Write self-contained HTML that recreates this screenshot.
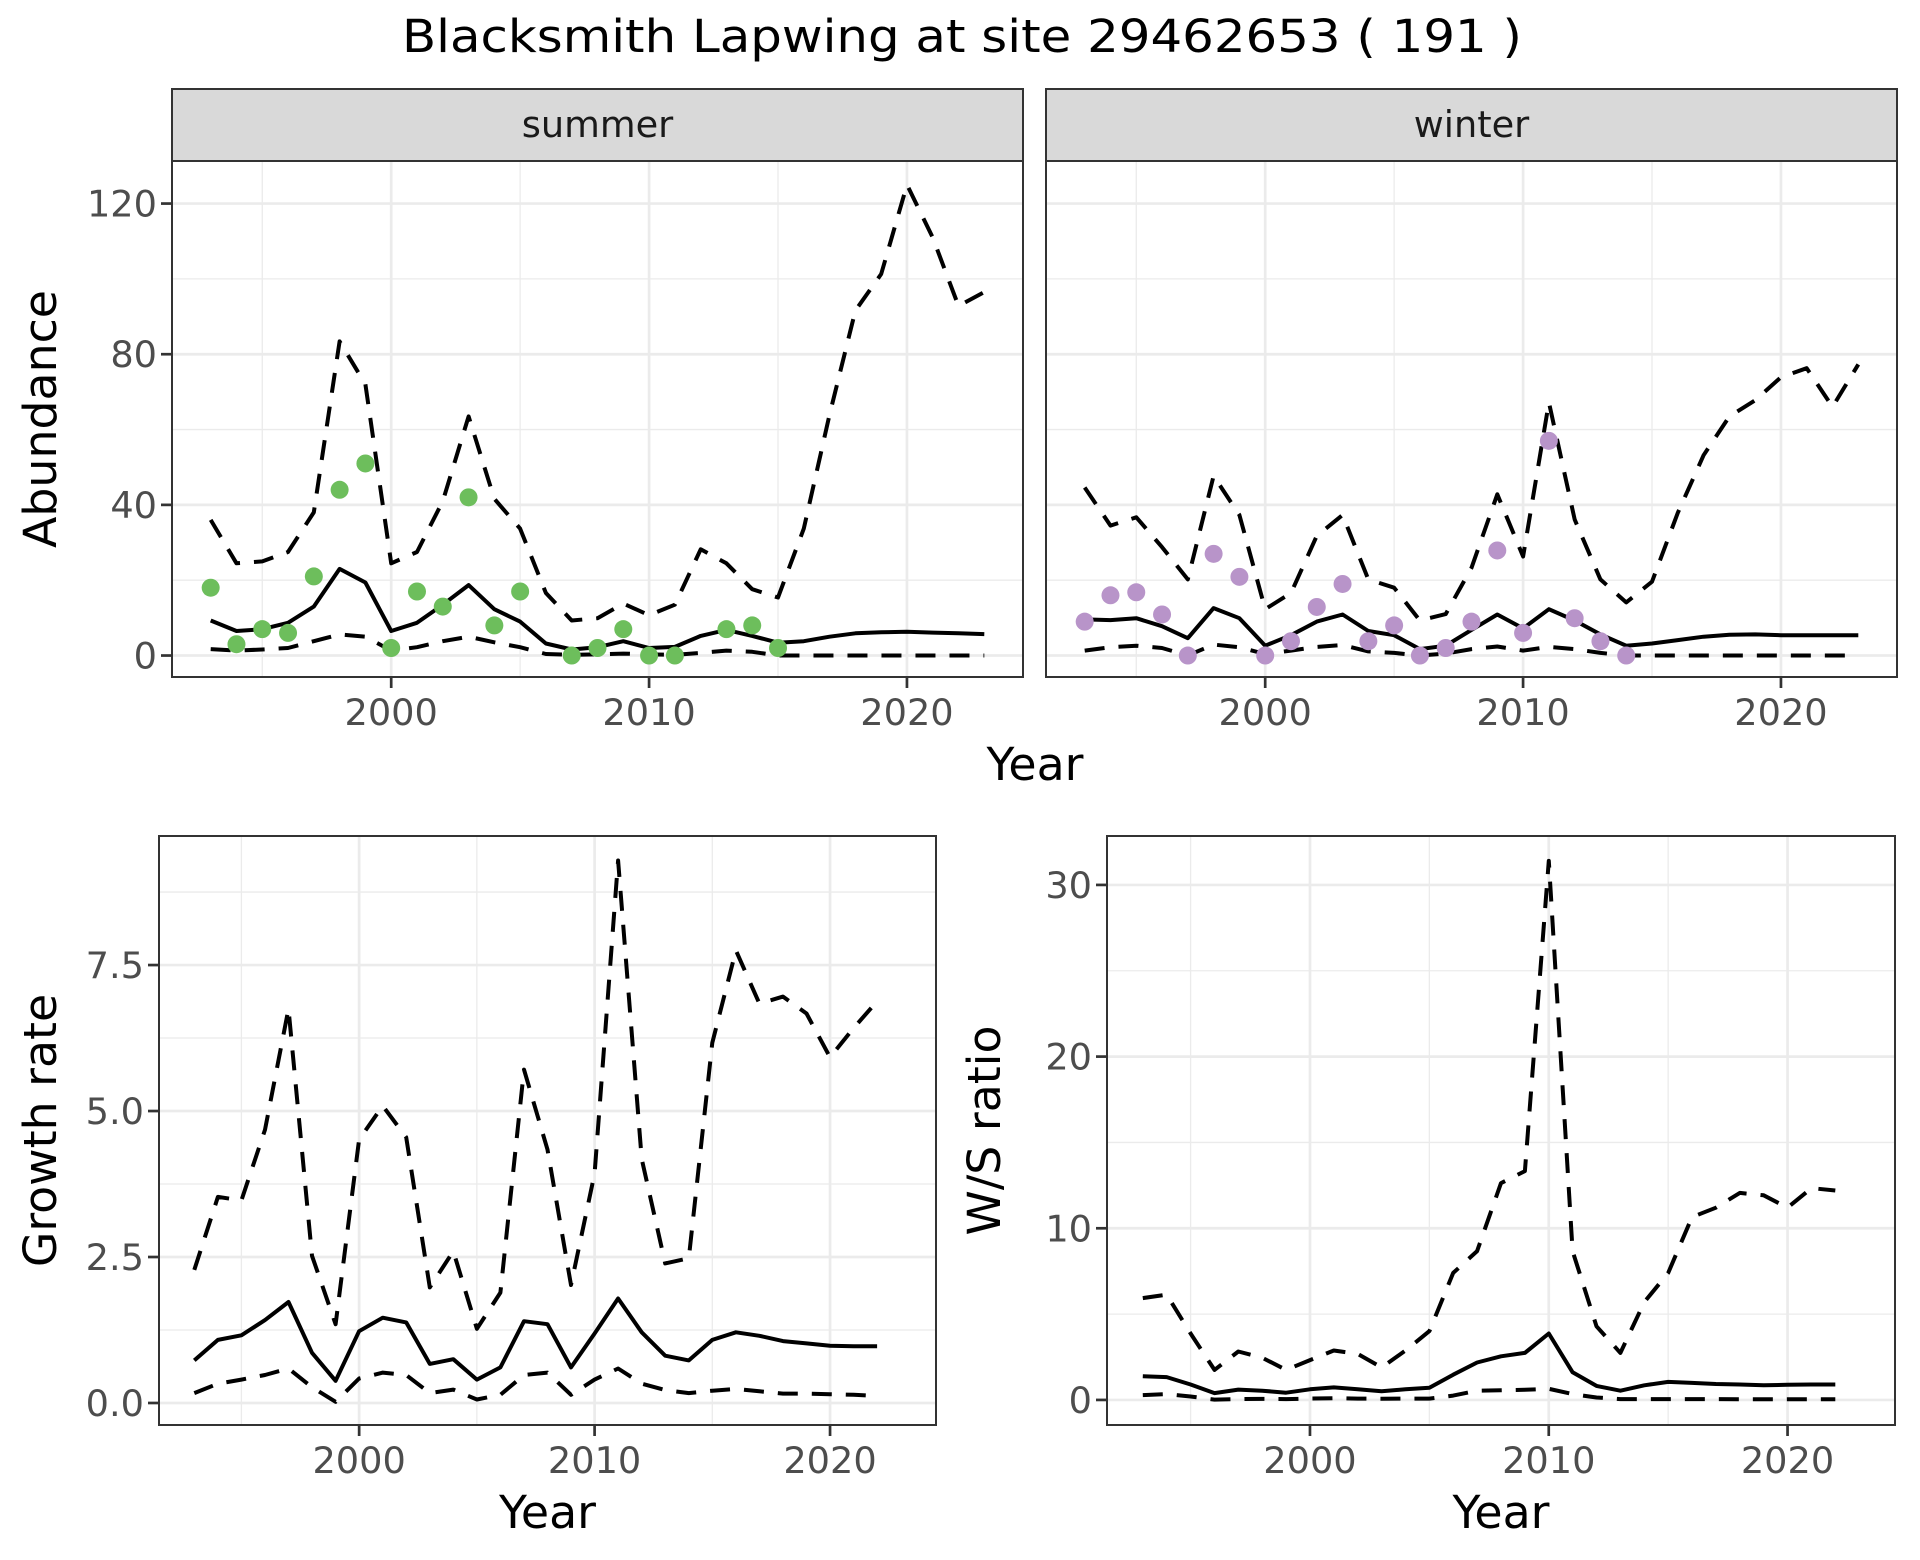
<!DOCTYPE html>
<html><head><meta charset="utf-8"><title>Blacksmith Lapwing</title>
<style>html,body{margin:0;padding:0;background:#fff;overflow:hidden}svg{display:block}text{font-family:"DejaVu Sans","Liberation Sans",sans-serif}</style>
</head><body>
<svg id="fig" xmlns="http://www.w3.org/2000/svg" width="1920" height="1560" viewBox="0 0 1920 1560">
<rect width="1920" height="1560" fill="#fff"/>
<text x="962" y="52" font-size="45.8" text-anchor="middle" textLength="1120" lengthAdjust="spacingAndGlyphs">Blacksmith Lapwing at site 29462653 ( 191 )</text>
<g id="layer"></g>
</svg>
<script>
const years = [1993,1994,1995,1996,1997,1998,1999,2000,2001,2002,2003,2004,2005,2006,2007,2008,2009,2010,2011,2012,2013,2014,2015,2016,2017,2018,2019,2020,2021,2022,2023];
const summerObsYears = [1993,1994,1995,1996,1997,1998,1999,2000,2001,2002,2003,2004,2005,2007,2008,2009,2010,2011,2013,2014,2015];
const summerObs = [18,3,7,6,21,44,51,2,17,13,42,8,17,0,2,7,0,0,7,8,2];
const summerMean = [9.3,6.5,7,8.7,13,23,19.4,6.5,8.7,13.5,18.7,12.3,9,3.2,1.6,2.2,3.8,2,2.3,5.2,6.8,5.2,3.4,3.8,5,5.9,6.2,6.3,6.1,5.9,5.7];
const summerUpper = [36,24.5,25,27.5,38,83.4,72,24.5,27.5,41,63.5,41.6,33.7,16.6,9.3,9.9,13.8,10.7,13.5,28.2,24.5,17.6,15.4,33.7,64,91.6,101.3,125,111,92.8,96.5];
const summerLower = [1.7,1.3,1.6,2,3.8,5.6,5,1.3,2.2,3.8,5,3.5,2.2,0.4,0.2,0.3,0.5,0.3,0.2,0.7,1.3,1,0,0,0,0,0,0,0,0,0];
const winterObsYears = [1993,1994,1995,1996,1997,1998,1999,2000,2001,2002,2003,2004,2005,2006,2007,2008,2009,2010,2011,2012,2013,2014];
const winterObs = [9,16,16.8,10.9,0,27,20.9,0,3.8,12.9,19,3.8,8,0,2,9,27.9,6,57,9.9,3.8,0];
const winterMean = [9.6,9.4,9.9,7.8,4.6,12.6,9.9,2.6,5.4,9,10.9,6.5,5.4,1.7,2.6,6.8,10.9,7.2,12.3,9.3,5.6,2.6,3.2,4.1,5,5.5,5.6,5.4,5.4,5.4,5.4];
const winterUpper = [44.6,34.5,36.7,28.8,20.2,47.7,37.3,12.3,16.6,31.8,37.3,20.2,18,9.3,11,23.3,42.8,26.3,67.2,36.1,20.2,14.1,19.6,37.9,53.2,63.5,67.8,73.9,76.3,66,77.3];
const winterLower = [1.3,2.2,2.6,2,0,2.9,2.2,0.4,1.3,2.3,2.8,1.1,0.7,0,0.5,1.7,2.4,1.3,2.3,1.7,0.7,0,0,0,0,0,0,0,0,0,0];
const years2 = [1993,1994,1995,1996,1997,1998,1999,2000,2001,2002,2003,2004,2005,2006,2007,2008,2009,2010,2011,2012,2013,2014,2015,2016,2017,2018,2019,2020,2021,2022];
const growthMean = [0.73,1.08,1.16,1.42,1.73,0.86,0.38,1.23,1.46,1.38,0.67,0.75,0.4,0.61,1.4,1.35,0.61,1.19,1.79,1.21,0.81,0.73,1.08,1.21,1.15,1.06,1.02,0.98,0.97,0.97];
const growthUpper = [2.28,3.53,3.47,4.68,6.75,2.52,1.35,4.51,5.09,4.55,1.98,2.6,1.27,1.89,5.71,4.34,2.02,3.93,9.29,4.18,2.39,2.48,6.17,7.75,6.84,6.96,6.67,5.92,6.42,6.88];
const growthLower = [0.17,0.33,0.4,0.48,0.59,0.27,0.02,0.42,0.52,0.48,0.17,0.23,0.06,0.14,0.48,0.52,0.14,0.4,0.59,0.33,0.22,0.17,0.21,0.24,0.2,0.16,0.16,0.15,0.14,0.12];
const ratioMean = [1.38,1.33,0.9,0.4,0.6,0.54,0.42,0.62,0.73,0.62,0.51,0.62,0.71,1.47,2.18,2.54,2.74,3.87,1.61,0.82,0.54,0.85,1.05,0.99,0.93,0.9,0.85,0.88,0.9,0.9];
const ratioUpper = [5.93,6.13,3.87,1.75,2.82,2.46,1.75,2.32,2.88,2.68,1.89,2.88,4.01,7.4,8.67,12.63,13.33,31.4,8.67,4.29,2.74,5.7,7.4,10.65,11.2,12.06,11.92,11.2,12.34,12.2];
const ratioLower = [0.28,0.34,0.2,0.02,0.05,0.06,0.05,0.08,0.1,0.08,0.07,0.08,0.08,0.25,0.54,0.56,0.59,0.65,0.34,0.14,0.05,0.05,0.05,0.05,0.05,0.04,0.04,0.04,0.04,0.04];
const xTicks = [2000,2010,2020];
const xMinor = [1995,2005,2015];
const abundTicks = [0,40,80,120];
const abundMinor = [20,60,100];
const growthTicks = [0,2.5,5,7.5];
const growthTickLabels = ["0.0","2.5","5.0","7.5"];
const growthMinor = [1.25,3.75,6.25,8.75];
const ratioTicks = [0,10,20,30];
const ratioMinor = [5,15,25];

const NS = "http://www.w3.org/2000/svg";
const layer = document.getElementById('layer');
function mk(tag, attrs, parent) {
  const e = document.createElementNS(NS, tag);
  for (const k in attrs) e.setAttribute(k, attrs[k]);
  (parent || layer).appendChild(e);
  return e;
}
function panel(cfg) {
  const g = mk('g', {});
  
  
  const L = cfg.l, R = cfg.r, T = cfg.t, B = cfg.b;
  const sx = v => L + (v - 1991.5) / 33 * (R - L);
  const sy = v => B - (v - cfg.ymin) / (cfg.ymax - cfg.ymin) * (B - T);
  mk('rect', {x: L, y: T, width: R - L, height: B - T, fill: '#fff'}, g);
  cfg.yMinor.forEach(v => {
    const l = mk('line', {x1: L, x2: R, y1: sy(v), y2: sy(v), stroke: '#ebebeb', 'stroke-width': 1.3}, g);
    
    
  });
  xMinor.forEach(v => {
    const l = mk('line', {x1: sx(v), x2: sx(v), y1: T, y2: B, stroke: '#ebebeb', 'stroke-width': 1.3}, g);
    
    
  });
  cfg.yTicks.forEach((v, i) => {
    const l = mk('line', {x1: L, x2: R, y1: sy(v), y2: sy(v), stroke: '#ebebeb', 'stroke-width': 2.7}, g);
    
    
    if (cfg.showY) {
      const tk = mk('line', {x1: L - 11, x2: L, y1: sy(v), y2: sy(v), stroke: '#333', 'stroke-width': 2.7}, g);
      
      
      const t = mk('text', {x: L - 15, y: sy(v) + 13, 'font-size': 36.7, fill: '#4d4d4d', 'text-anchor': 'end'}, g);
      
      
      t.textContent = cfg.yLabels ? cfg.yLabels[i] : String(v);
    }
  });
  xTicks.forEach(v => {
    const l = mk('line', {x1: sx(v), x2: sx(v), y1: T, y2: B, stroke: '#ebebeb', 'stroke-width': 2.7}, g);
    
    
    const tk = mk('line', {x1: sx(v), x2: sx(v), y1: B, y2: B + 11, stroke: '#333', 'stroke-width': 2.7}, g);
    
    
    const t = mk('text', {x: sx(v), y: B + 48, 'font-size': 36.7, fill: '#4d4d4d', 'text-anchor': 'middle'}, g);
    
    
    t.textContent = String(v);
  });
  const line = (xs, ys, dash, name) => {
    const d = ys.map((v, i) => (i ? 'L' : 'M') + sx(xs[i]).toFixed(1) + ',' + sy(v).toFixed(1)).join('');
    const p = mk('path', {d: d, fill: 'none', stroke: '#000', 'stroke-width': 4, 'stroke-linejoin': 'round'}, g);
    if (dash) p.setAttribute('stroke-dasharray', '20 14');
    
    
  };
  line(cfg.xs, cfg.upper, true, 'upper-bound-line');
  line(cfg.xs, cfg.lower, true, 'lower-bound-line');
  line(cfg.xs, cfg.mean, false, 'mean-line');
  if (cfg.obs) cfg.obs.forEach((v, i) => {
    const c = mk('circle', {cx: sx(cfg.obsX[i]), cy: sy(v), r: 9, fill: cfg.color}, g);
    
    
  });
  mk('rect', {x: L, y: T, width: R - L, height: B - T, fill: 'none', stroke: '#333', 'stroke-width': 2}, g);
  if (cfg.strip) {
    const s = mk('rect', {x: L, y: T - 72, width: R - L, height: 72, fill: '#d9d9d9', stroke: '#333', 'stroke-width': 2}, g);
    
    
    const st = mk('text', {x: (L + R) / 2, y: T - 24, 'font-size': 36.7, fill: '#1a1a1a', 'text-anchor': 'middle'}, g);
    
    
    st.textContent = cfg.strip;
  }
  if (cfg.ytitle) {
    const cy = (T + B) / 2;
    const yt = mk('text', {x: cfg.ytx, y: cy, 'font-size': 45.8, 'text-anchor': 'middle', transform: 'rotate(-90 ' + cfg.ytx + ' ' + cy + ')'}, g);
    
    
    yt.textContent = cfg.ytitle;
  }
  if (cfg.xtitle) {
    const xt = mk('text', {x: (L + R) / 2, y: B + 103, 'font-size': 45.8, 'text-anchor': 'middle'}, g);
    
    
    xt.textContent = cfg.xtitle;
  }
}
panel({name: 'summer-panel', l: 172, r: 1023, t: 161, b: 677, ymin: -5.7, ymax: 131.3, yTicks: abundTicks, yMinor: abundMinor, showY: true,
  xs: years, mean: summerMean, upper: summerUpper, lower: summerLower, obs: summerObs, obsX: summerObsYears, color: '#6dbe5c',
  strip: 'summer', ytitle: 'Abundance', ytx: 56});
panel({name: 'winter-panel', l: 1046, r: 1897, t: 161, b: 677, ymin: -5.7, ymax: 131.3, yTicks: abundTicks, yMinor: abundMinor, showY: false,
  xs: years, mean: winterMean, upper: winterUpper, lower: winterLower, obs: winterObs, obsX: winterObsYears, color: '#b894c9',
  strip: 'winter'});
const yr = mk('text', {x: 1035, y: 780, 'font-size': 45.8, 'text-anchor': 'middle'});


yr.textContent = 'Year';
panel({name: 'growth-rate-panel', l: 159, r: 936, t: 836, b: 1425, ymin: -0.377, ymax: 9.71, yTicks: growthTicks, yLabels: growthTickLabels, yMinor: growthMinor, showY: true,
  xs: years2, mean: growthMean, upper: growthUpper, lower: growthLower, ytitle: 'Growth rate', ytx: 56, xtitle: 'Year'});
panel({name: 'ws-ratio-panel', l: 1107, r: 1895, t: 836, b: 1425, ymin: -1.46, ymax: 32.85, yTicks: ratioTicks, yMinor: ratioMinor, showY: true,
  xs: years2, mean: ratioMean, upper: ratioUpper, lower: ratioLower, ytitle: 'W/S ratio', ytx: 1000, xtitle: 'Year'});
</script>
</body></html>
